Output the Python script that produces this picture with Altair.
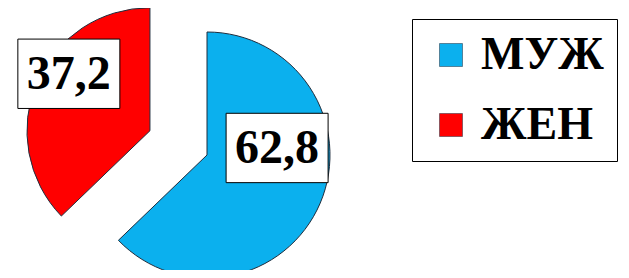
import altair as alt
import pandas as pd

categories = ["МУЖ", "ЖЕН"]
values = [62.8, 37.2]
labels = ["62,8", "37,2"]
colors = ["#0BB0EE", "#FF0000"]

df = pd.DataFrame({
    "cat": categories,
    "value": values,
    "label": labels,
    "order": list(range(len(categories))),
})

# layout constants (pixels in the view)
CX, CY, R = 199, 147, 123
EXPLODE = 62
LR = 74
label_nudge = {"МУЖ": (2, -36), "ЖЕН": (-13, -28)}
STROKE = "#1f2d3d"

base = (
    alt.Chart(df)
    .transform_joinaggregate(total="sum(value)")
    .transform_window(cum="sum(value)", sort=[alt.SortField("order")], frame=[None, 0])
    .transform_calculate(
        t0="(datum.cum - datum.value) / datum.total * 2 * PI",
        t1="datum.cum / datum.total * 2 * PI",
    )
    .transform_calculate(mid="(datum.t0 + datum.t1) / 2")
    .transform_calculate(ex=f"datum.cat == '{categories[1]}' ? {EXPLODE} : 0")
    .transform_calculate(
        cx=f"{CX} + datum.ex * sin(datum.mid)",
        cy=f"{CY} - datum.ex * cos(datum.mid)",
    )
    .transform_calculate(
        lx=f"datum.cx + {LR} * sin(datum.mid)",
        ly=f"datum.cy - {LR} * cos(datum.mid)",
    )
)

arcs = base.mark_arc(radius=R, stroke=STROKE, strokeWidth=1).encode(
    theta=alt.Theta("t0:Q", scale=None),
    theta2=alt.Theta2("t1:Q"),
    x=alt.X("cx:Q", scale=None, axis=None),
    y=alt.Y("cy:Q", scale=None, axis=None),
    color=alt.Color(
        "cat:N",
        scale=alt.Scale(domain=categories, range=colors),
        legend=alt.Legend(
            title=None,
            orient="none",
            legendX=404,
            legendY=11,
            symbolType="square",
            symbolSize=529,
            symbolStrokeColor=STROKE,
            symbolStrokeWidth=0.5,
            symbolOffset=3,
            labelFont="Liberation Serif",
            labelFontSize=46,
            labelFontWeight="bold",
            labelColor="black",
            labelOffset=7,
            labelLimit=300,
            rowPadding=24,
            padding=13,
            strokeColor="black",
            fillColor="white",
        ),
    ),
)

layers = [arcs]
for cat in categories:
    dx, dy = label_nudge[cat]
    sub = base.transform_filter(alt.datum.cat == cat)
    box = sub.mark_point(
        shape="M-1,-0.68H1V0.68H-1Z",
        size=10404,
        filled=True,
        fill="white",
        stroke="black",
        strokeWidth=1,
        opacity=1,
        xOffset=dx,
        yOffset=dy,
    ).encode(
        x=alt.X("lx:Q", scale=None, axis=None),
        y=alt.Y("ly:Q", scale=None, axis=None),
    )
    txt = sub.mark_text(
        font="Liberation Serif",
        fontSize=48,
        fontWeight="bold",
        color="black",
        align="center",
        baseline="middle",
        xOffset=dx,
        yOffset=dy + 1,
    ).encode(
        x=alt.X("lx:Q", scale=None, axis=None),
        y=alt.Y("ly:Q", scale=None, axis=None),
        text="label:N",
    )
    layers += [box, txt]

chart = (
    alt.layer(*layers)
    .properties(width=613, height=262, padding=0, autosize="none")
    .configure_view(stroke=None)
)

chart.save("out.html", embed_options={"renderer": "svg", "actions": False})
